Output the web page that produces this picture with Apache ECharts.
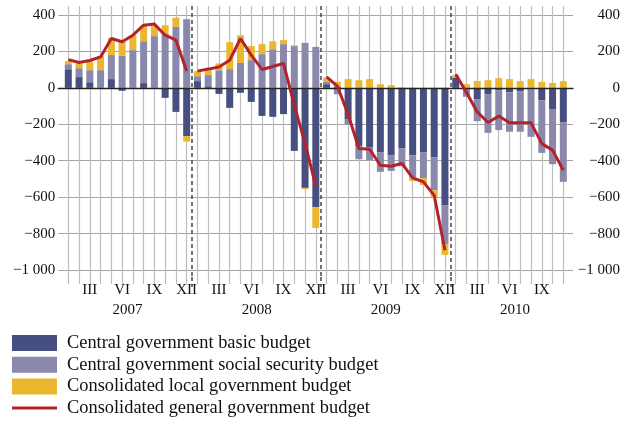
<!DOCTYPE html>
<html><head><meta charset="utf-8">
<script src="https://cdn.jsdelivr.net/npm/echarts@6/dist/echarts.min.js"></script>
<style>html,body{margin:0;padding:0;background:#fff}#c{width:621px;height:421px}</style>
</head><body><div id="c"></div><script>
// ---- data ----
const years = ['2007', '2008', '2009', '2010'];
const monthNames = ['I','II','III','IV','V','VI','VII','VIII','IX','X','XI','XII'];
const shownMonthLabels = ['III', 'VI', 'IX', 'XII'];
const yTickValues = [-1000, -800, -600, -400, -200, 0, 200, 400];

const basicBudget = [
  102, 59, 31, 2, 48, -16, 2, 26, 0, -55, -132, -265,
  37, 9, -33, -110, -27, -77, -154, -159, -144, -346, -549, -655,
  20, 8, -174, -319, -325, -353, -370, -331, -370, -353, -381, -646,
  57, 0, -62, -35, -13, -24, -18, -9, -68, -116, -190
];
const socialSecurityBudget = [
  28, 49, 66, 95, 132, 176, 205, 230, 284, 295, 335, 377,
  27, 61, 97, 103, 137, 152, 185, 212, 240, 229, 247, 225,
  13, -35, -27, -73, -72, -108, -86, -99, -121, -143, -181, -213,
  0, -49, -121, -212, -219, -217, -223, -260, -289, -303, -326
];
const localBudget = [
  17, 26, 46, 79, 95, 77, 82, 85, 57, 49, 50, -30,
  28, 27, 37, 148, 152, 77, 55, 43, 22, 5, -7, -114,
  24, 25, 48, 42, 48, 20, 15, 2, -20, -37, -40, -58,
  13, 20, 38, 42, 53, 48, 37, 48, 33, 27, 37
];
const generalBudget = [
  155, 139, 150, 170, 271, 253, 289, 344, 350, 289, 262, 92,
  92, 103, 115, 152, 271, 180, 101, 117, 134, -95, -305, -540,
  60, 10, -145, -333, -337, -425, -430, -415, -494, -516, -590, -892,
  75, -25, -132, -190, -155, -192, -192, -192, -306, -342, -452
];

// categories (month index -> label)
const categories = [];
years.forEach(y => monthNames.forEach(m => categories.push(m + ' ' + y)));
categories.length = basicBudget.length;

const names = [
  'Central government basic budget',
  'Central government social security budget',
  'Consolidated local government budget',
  'Consolidated general government budget'
];
const colors = ['#474f80', '#8a88ad', '#ebb72f', '#b3232b'];
const FONT = 'Liberation Serif';

const idx = categories.map((_, i) => i);
const monthLabelIdx = idx.filter(i => shownMonthLabels.includes(categories[i].split(' ')[0]));
const yearBoundaries = years.slice(1).map((_, k) => (k + 1) * 12 - 0.5);
const yearCenters = years.map((_, k) => k * 12 + 5.5);

const XMIN = -0.93, XMAX = 46.9;
const YMIN = -1038.4, YMAX = 449.4;

function fmtNum(v) {
  const a = Math.abs(v);
  let s = String(a);
  if (a >= 1000) s = s.slice(0, s.length - 3) + ' ' + s.slice(-3);
  return (v < 0 ? '\u2212' : '') + s;
}

// value first so that the stacked dimension is the value (y) dimension
const barSeries = [basicBudget, socialSecurityBudget, localBudget].map((arr, k) => ({
  name: names[k], type: 'bar', stack: 'total', xAxisIndex: 0, yAxisIndex: 0,
  barWidth: 7, itemStyle: { color: colors[k] },
  encode: { x: 1, y: 0 },
  data: arr.map((v, i) => [v, i])
}));

const lineSeries = years.map((y, k) => ({
  name: names[3], type: 'line', xAxisIndex: 0, yAxisIndex: 0,
  symbol: 'none', z: 20,
  lineStyle: { color: colors[3], width: 3 }, itemStyle: { color: colors[3] },
  data: generalBudget.slice(k * 12, k * 12 + 12).map((v, j) => [k * 12 + j, v])
}));

const chart = echarts.init(document.getElementById('c'), null, { renderer: 'canvas' });
chart.setOption({
  animation: false,
  backgroundColor: '#fff',
  textStyle: { fontFamily: FONT },
  grid: { left: 58.3, right: 48, top: 6, bottom: 144, containLabel: false, outerBoundsMode: 'none' },
  xAxis: [
    {
      type: 'value', min: XMIN, max: XMAX, position: 'bottom',
      axisLine: { show: false, onZero: false },
      axisTick: { show: true, customValues: idx, length: 7, lineStyle: { color: '#bdbdbd', width: 1.2 } },
      axisLabel: { customValues: monthLabelIdx, formatter: v => categories[Math.round(v)].split(' ')[0],
        margin: 6, fontSize: 15, color: '#111', fontFamily: FONT },
      splitLine: { show: true, lineStyle: { color: '#bdbdbd', width: 1.2 } }
    },
    {
      type: 'value', min: XMIN, max: XMAX, position: 'bottom',
      axisLine: { show: false, onZero: false },
      axisTick: { show: true, customValues: yearBoundaries, length: 10,
        lineStyle: { color: '#444', width: 1.5, type: [4, 3] } },
      axisLabel: { customValues: yearCenters, formatter: v => years[Math.round((v - 5.5) / 12)],
        margin: 26, fontSize: 15, color: '#111', fontFamily: FONT },
      splitLine: { show: true, lineStyle: { color: '#444', width: 1.5, type: [4, 3] } }
    },
    {
      type: 'value', min: XMIN, max: XMAX, z: 10,
      axisLine: { show: true, onZero: true, lineStyle: { color: '#222', width: 1.3 } },
      axisTick: { show: false }, axisLabel: { show: false }, splitLine: { show: false }
    }
  ],
  yAxis: [
    {
      type: 'value', min: YMIN, max: YMAX, position: 'left',
      axisLine: { show: false }, axisTick: { show: false, customValues: yTickValues },
      axisLabel: { customValues: yTickValues, formatter: fmtNum, margin: 3, fontSize: 15,
        color: '#111', fontFamily: FONT },
      splitLine: { show: true, lineStyle: { color: '#a3a3a3', width: 1.2 } }
    },
    {
      type: 'value', min: YMIN, max: YMAX, position: 'right',
      axisLine: { show: false }, axisTick: { show: false, customValues: yTickValues },
      axisLabel: { customValues: yTickValues, formatter: fmtNum, margin: 47, align: 'right',
        fontSize: 15, color: '#111', fontFamily: FONT },
      splitLine: { show: false }
    }
  ],
  legend: {
    orient: 'vertical', left: 12, top: 334, padding: 0, itemGap: 3.7,
    itemWidth: 45, itemHeight: 16, selectedMode: false,
    textStyle: { fontFamily: FONT, fontSize: 18.4, color: '#111', padding: [0, 0, 0, 5] },
    data: [
      { name: names[0], icon: 'rect' },
      { name: names[1], icon: 'rect' },
      { name: names[2], icon: 'rect' },
      { name: names[3], icon: 'path://M0,0H45V3H0Z' }
    ]
  },
  series: barSeries.concat(lineSeries)
});
</script></body></html>
